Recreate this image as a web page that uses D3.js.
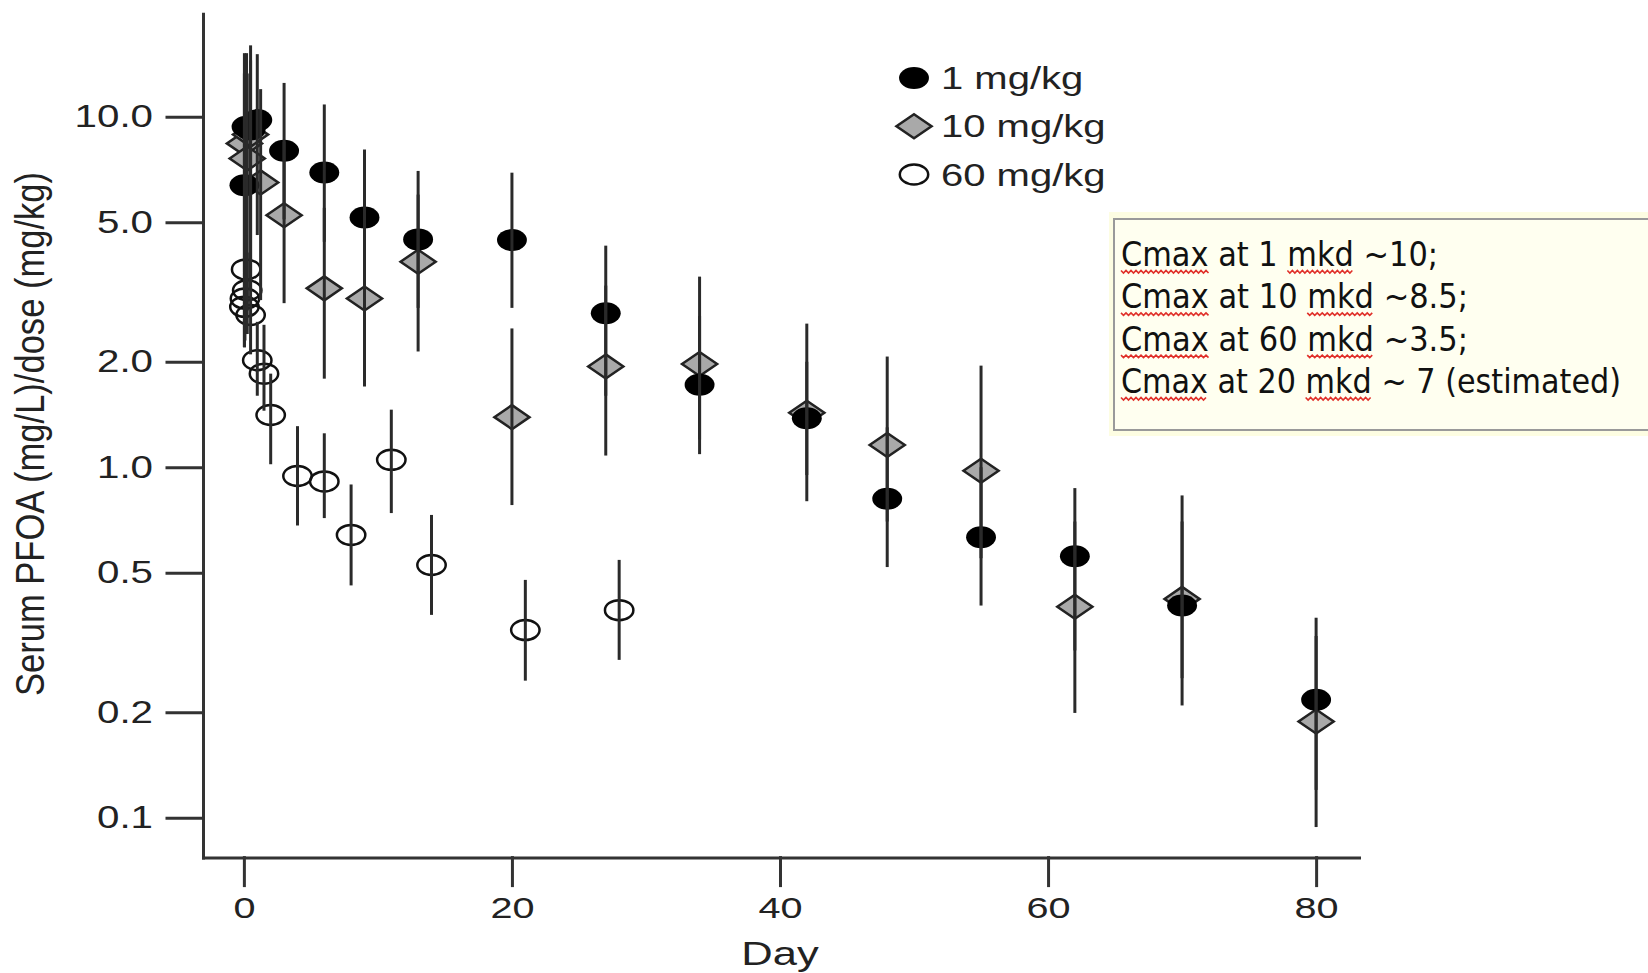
<!DOCTYPE html>
<html>
<head>
<meta charset="utf-8">
<script src="https://cdn.jsdelivr.net/npm/d3@7"></script>
<style>
  body { margin: 0; background: #fff; }
</style>
</head>
<body>
<div id="chart"></div>
<script>
// tick labels
const yTicks = [0.1, 0.2, 0.5, 1, 2, 5, 10];
const xTicks = [0, 20, 40, 60, 80];
const seriesNames = ["1 mg/kg", "10 mg/kg", "60 mg/kg"];

// 1 mg/kg (filled circles)
const days1 = [0.04, 0.2, 0.5, 1, 3, 6, 9, 13, 20, 27, 34, 42, 48, 55, 62, 70, 80];
const mean1 = [6.38, 9.37, 9.2, 9.79, 8.0, 6.94, 5.16, 4.47, 4.45, 2.75, 1.72, 1.38, 0.813, 0.631, 0.557, 0.403, 0.217];
const lo1 = [2.2, 3.0, 3.4, 4.6, 5.1, 4.4, 3.3, 2.85, 2.85, 1.6, 1.09, 0.8, 0.519, 0.403, 0.3, 0.209, 0.12];
const hi1 = [13.3, 15.2, 16.0, 15.1, 12.5, 10.85, 8.07, 7.01, 6.93, 4.29, 2.7, 2.0, 1.3, 1.0, 0.872, 0.7, 0.372];

// 10 mg/kg (grey diamonds)
const days10 = [0.04, 0.25, 0.5, 1.25, 3, 6, 9, 13, 20, 27, 34, 42, 48, 55, 62, 70, 80];
const mean10 = [8.4, 7.61, 8.9, 6.5, 5.24, 3.24, 3.03, 3.86, 1.39, 1.94, 1.97, 1.43, 1.157, 0.977, 0.4, 0.421, 0.188];
const lo10 = [3.6, 2.8, 3.2, 3.0, 2.94, 1.79, 1.7, 2.14, 0.78, 1.08, 1.2, 0.95, 0.7, 0.55, 0.199, 0.25, 0.094];
const hi10 = [15.2, 13.3, 14.5, 12.0, 8.5, 5.5, 4.6, 6.0, 2.49, 3.3, 3.5, 2.57, 2.07, 1.95, 0.7, 0.831, 0.33];

// 60 mg/kg (open circles)
const days60 = [0.04, 0.08, 0.17, 0.25, 0.5, 1, 1.5, 2, 4, 6, 8, 11, 14, 21, 28];
const mean60 = [2.87, 3.03, 3.67, 3.2, 2.72, 2.02, 1.85, 1.41, 0.944, 0.911, 0.641, 1.05, 0.526, 0.343, 0.391];
const lo60 = [2.2, 2.3, 2.8, 2.4, 2.1, 1.6, 1.45, 1.02, 0.682, 0.716, 0.46, 0.74, 0.379, 0.246, 0.282];
const hi60 = [3.6, 3.9, 4.6, 4.1, 3.4, 2.6, 2.55, 1.85, 1.31, 1.25, 0.893, 1.46, 0.731, 0.477, 0.544];

const notes = [
  "Cmax at 1 mkd ~10;",
  "Cmax at 10 mkd ~8.5;",
  "Cmax at 60 mkd ~3.5;",
  "Cmax at 20 mkd ~ 7 (estimated)",
];

const width = 1648;
const height = 973;
const helv = "'Liberation Sans', Arial, Helvetica, sans-serif";

const svg = d3
  .select("#chart")
  .append("svg")
  .attr("width", width)
  .attr("height", height);

const x = d3.scaleLinear().domain([-3.05, 83.2]).range([203, 1359]);
const y = d3.scaleLog().domain([0.0769, 19.7]).range([857.6, 13.7]);

// the source picture is stretched sideways, so widen text to match
const widen = (sel, k) =>
  sel.each(function () {
    const w = this.getComputedTextLength();
    d3.select(this).attr("textLength", w * k).attr("lengthAdjust", "spacingAndGlyphs");
  });

// axes
const yAxis = svg
  .append("g")
  .attr("transform", `translate(${x.range()[0]},0)`)
  .call(
    d3.axisLeft(y).tickValues(yTicks).tickFormat(d3.format(".1f"))
      .tickSize(36).tickSizeOuter(0).tickPadding(14)
  )
  .attr("font-family", helv)
  .attr("font-size", 31)
  .attr("color", "#333");
yAxis.selectAll("path, line").attr("stroke-width", 3).attr("stroke-linecap", "square");
yAxis.selectAll("text").attr("fill", "#222").call(widen, 1.3);

const xAxis = svg
  .append("g")
  .attr("transform", `translate(0,${y.range()[0]})`)
  .call(
    d3.axisBottom(x).tickValues(xTicks).tickFormat(d3.format("d"))
      .tickSize(28).tickSizeOuter(0).tickPadding(11)
  )
  .attr("font-family", helv)
  .attr("font-size", 30)
  .attr("color", "#333");
xAxis.selectAll("path, line").attr("stroke-width", 3).attr("stroke-linecap", "square");
xAxis.selectAll("text").attr("fill", "#222").call(widen, 1.32);

svg
  .append("text")
  .text("Day")
  .attr("x", x(40))
  .attr("y", 965)
  .attr("text-anchor", "middle")
  .attr("font-family", helv)
  .attr("font-size", 34)
  .attr("fill", "#222")
  .call(widen, 1.28);

svg
  .append("text")
  .text("Serum PFOA (mg/L)/dose (mg/kg)")
  .attr("transform", "translate(44,434) rotate(-90)")
  .attr("text-anchor", "middle")
  .attr("font-family", helv)
  .attr("font-size", 40)
  .attr("fill", "#222")
  .attr("textLength", 524)
  .attr("lengthAdjust", "spacingAndGlyphs");

// marks
const rows = (days, mean, lo, hi) =>
  days.map((d, i) => ({ day: d, v: mean[i], lo: lo[i], hi: hi[i] }));
const data1 = rows(days1, mean1, lo1, hi1);
const data10 = rows(days10, mean10, lo10, hi10);
const data60 = rows(days60, mean60, lo60, hi60);

const circleSym = d3.symbol(d3.symbolCircle, Math.PI * 11 * 11);
const openSym = d3.symbol(d3.symbolCircle, Math.PI * 10 * 10);
const squareSym = d3.symbol(d3.symbolSquare, 17 * 17);

const drawFilled = (g, data) =>
  g.selectAll("path.filled")
    .data(data)
    .join("path")
    .attr("class", "filled")
    .attr("d", circleSym())
    .attr("transform", (d) => `translate(${d.x},${d.y}) scale(1.36,1)`)
    .attr("fill", "#000");

const drawDiamond = (g, data) =>
  g.selectAll("path.diamond")
    .data(data)
    .join("path")
    .attr("class", "diamond")
    .attr("d", squareSym())
    .attr("transform", (d) => `translate(${d.x},${d.y}) scale(1.46,1) rotate(45)`)
    .attr("fill", "#a9a9a9")
    .attr("stroke", "#222")
    .attr("stroke-width", 2.5)
    .attr("vector-effect", "non-scaling-stroke");

const drawOpen = (g, data) =>
  g.selectAll("path.open")
    .data(data)
    .join("path")
    .attr("class", "open")
    .attr("d", openSym())
    .attr("transform", (d) => `translate(${d.x},${d.y}) scale(1.42,1)`)
    .attr("fill", "none")
    .attr("stroke", "#111")
    .attr("stroke-width", 2.5)
    .attr("vector-effect", "non-scaling-stroke");

const place = (data) => data.map((d) => ({ x: x(d.day), y: y(d.v) }));

const marks = svg.append("g");
drawDiamond(marks.append("g"), place(data10));
drawFilled(marks.append("g"), place(data1));
drawOpen(marks.append("g"), place(data60));

marks
  .append("g")
  .selectAll("line")
  .data([...data10, ...data1, ...data60])
  .join("line")
  .attr("x1", (d) => x(d.day))
  .attr("x2", (d) => x(d.day))
  .attr("y1", (d) => y(d.lo))
  .attr("y2", (d) => y(d.hi))
  .attr("stroke", "#2a2a2a")
  .attr("stroke-width", 3);

// legend
const legendY = d3.scalePoint().domain(seriesNames).range([78, 174.5]);
const legend = svg.append("g");
drawFilled(legend.append("g"), [{ x: 914, y: legendY(seriesNames[0]) }]);
drawDiamond(legend.append("g"), [{ x: 914, y: legendY(seriesNames[1]) }]);
drawOpen(legend.append("g"), [{ x: 914, y: legendY(seriesNames[2]) }]);
legend
  .selectAll("text")
  .data(seriesNames)
  .join("text")
  .text((d) => d)
  .attr("x", 941)
  .attr("y", (d) => legendY(d) + 11)
  .attr("font-family", helv)
  .attr("font-size", 32)
  .attr("fill", "#222")
  .call(widen, 1.25);

// annotation box
const note = svg.append("g");
note.append("rect")
  .attr("x", 1109).attr("y", 212).attr("width", 560).attr("height", 224)
  .attr("fill", "#fdfde2");
note.append("rect")
  .attr("x", 1114).attr("y", 219).attr("width", 560).attr("height", 211)
  .attr("fill", "#fffff0")
  .attr("stroke", "#9a9a9a")
  .attr("stroke-width", 2);

const noteWidths = [317, 347, 347, 500];
const noteY = d3.scalePoint().domain(d3.range(notes.length)).range([266, 393]);
const squiggle = (x0, x1, yb) => {
  const pts = [];
  for (let i = 0, px = x0; px <= x1; i++, px += 2.5) pts.push([px, yb + (i % 2 ? 2 : -0.5)]);
  return d3.line()(pts);
};

notes.forEach((t, i) => {
  const el = note.append("text")
    .text(t)
    .attr("x", 1121)
    .attr("y", noteY(i))
    .attr("font-family", "'Liberation Sans Narrow', 'DejaVu Sans Condensed', 'Open Sans', sans-serif")
    .attr("font-size", 33)
    .attr("fill", "#111");
  const node = el.node();
  const natural = node.getComputedTextLength();
  const k = noteWidths[i] / natural;
  ["Cmax", "mkd"].forEach((w) => {
    const at = t.indexOf(w);
    const x0 = 1121 + (at > 0 ? node.getSubStringLength(0, at) : 0) * k;
    const x1 = x0 + node.getSubStringLength(at, w.length) * k;
    note.append("path")
      .attr("d", squiggle(x0, x1, noteY(i) + 5))
      .attr("fill", "none")
      .attr("stroke", "#e0302a")
      .attr("stroke-width", 1.6);
  });
  el.attr("textLength", noteWidths[i]).attr("lengthAdjust", "spacingAndGlyphs");
});
</script>
</body>
</html>
